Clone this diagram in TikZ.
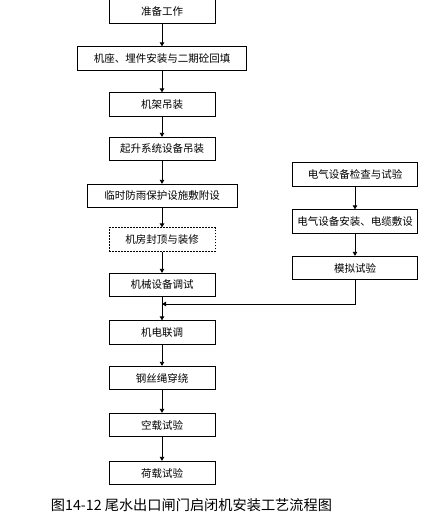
\documentclass[tikz,border=0pt]{standalone}
\usepackage{fontspec}
\newfontfamily\cjk{Noto Sans CJK SC}
\usetikzlibrary{arrows.meta}

\begin{document}
\begin{tikzpicture}[x=1pt,y=-1pt,
  stepbox/.style={draw,line width=0.8pt,minimum height=23.5pt,inner sep=0pt,
    font=\cjk\fontsize{10.5}{12}\selectfont},
  flow/.style={-{Triangle[length=4pt,width=4.5pt]},line width=0.8pt}]
  \useasboundingbox (0,0) rectangle (424,517);
  % left column
  \node[stepbox,minimum width=106pt] (prep) at (162,11.5){准备工作};
  \node[stepbox,minimum width=169pt] (base) at (162,58.5){机座、埋件安装与二期砼回填};
  \node[stepbox,minimum width=106pt] (frame) at (162,104.5){机架吊装};
  \node[stepbox,minimum width=106pt] (hoist) at (162,149){起升系统设备吊装};
  \node[stepbox,minimum width=150pt] (rain) at (162,196){临时防雨保护设施敷附设};
  \node[stepbox,minimum width=106pt,dash pattern=on 1.5pt off 1.5pt] (roof) at (162,239.5){机房封顶与装修};
  \node[stepbox,minimum width=106pt] (mech) at (162,285){机械设备调试};
  \node[stepbox,minimum width=106pt] (joint) at (162,332.5){机电联调};
  \node[stepbox,minimum width=106pt] (rope) at (162,378){钢丝绳穿绕};
  \node[stepbox,minimum width=106pt] (idle) at (162,425){空载试验};
  \node[stepbox,minimum width=106pt] (load) at (162,473){荷载试验};
  % right column
  \node[stepbox,minimum width=125pt] (check) at (355,174.5){电气设备检查与试验};
  \node[stepbox,minimum width=125pt] (cable) at (355,221.5){电气设备安装、电缆敷设};
  \node[stepbox,minimum width=125pt] (sim) at (355,268){模拟试验};
  \coordinate (merge) at (162,304);
  \foreach \a/\b in {prep/base,base/frame,frame/hoist,hoist/rain,rain/roof,roof/mech,
    mech/joint,joint/rope,rope/idle,idle/load,check/cable,cable/sim}
    \draw[flow] (\a) -- (\b);
  \draw[flow] (sim.south) |- (merge);
  \node[font=\cjk\fontsize{14.2}{16}\selectfont] (title) at (191.5,505){图14-12 尾水出口闸门启闭机安装工艺流程图};
\end{tikzpicture}
\end{document}
